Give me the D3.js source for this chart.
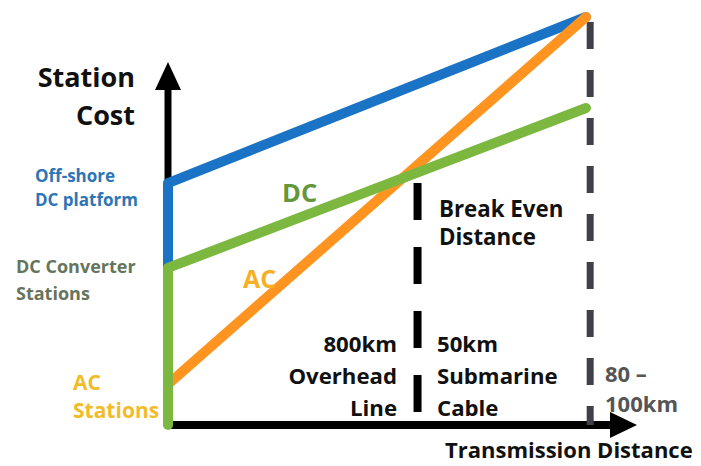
<!DOCTYPE html>
<html>
<head>
<meta charset="utf-8">
<script src="https://cdn.jsdelivr.net/npm/d3@7"></script>
<style>
  body { margin: 0; background: #fff; }
  svg text { font-family: 'Open Sans', Lato, sans-serif; font-weight: bold; }
</style>
</head>
<body>
<svg id="chart"></svg>
<script>
// schematic values, distance and cost in relative units (0-100)
const distance = [0, 100];
const acCost = [10, 100];
const dcCost = [38.5, 77.7];
const dcPlatformCost = [59.3, 100];
const breakEvenDistance = 59.7;
const submarineLimit = 101;

const width = 701, height = 466;
const x = d3.scaleLinear().domain([0, 100]).range([168, 586]);
const y = d3.scaleLinear().domain([0, 100]).range([425, 17]);

const svg = d3.select('#chart')
    .attr('width', width)
    .attr('height', height);

// axes with arrows
svg.append('line')
    .attr('x1', x(0)).attr('x2', 612)
    .attr('y1', y(0)).attr('y2', y(0))
    .attr('stroke', '#000').attr('stroke-width', 8);
svg.append('path')
    .attr('d', `M610,${y(0) - 13} L637,${y(0)} L610,${y(0) + 13} Z`)
    .attr('fill', '#000');
svg.append('line')
    .attr('x1', x(0)).attr('x2', x(0))
    .attr('y1', y(0)).attr('y2', 88)
    .attr('stroke', '#000').attr('stroke-width', 7);
svg.append('path')
    .attr('d', `M${x(0) - 13},90 L${x(0)},62 L${x(0) + 13},90 Z`)
    .attr('fill', '#000');

// dashed guides
svg.append('line')
    .attr('x1', x(breakEvenDistance)).attr('x2', x(breakEvenDistance))
    .attr('y1', 183).attr('y2', y(0))
    .attr('stroke', '#000').attr('stroke-width', 8)
    .attr('stroke-dasharray', '37 27');
svg.append('line')
    .attr('x1', x(submarineLimit)).attr('x2', x(submarineLimit))
    .attr('y1', 22).attr('y2', y(0))
    .attr('stroke', '#404048').attr('stroke-width', 7)
    .attr('stroke-dasharray', '27 21');

const line = d3.line().x(d => x(d[0])).y(d => y(d[1]));

const blue = [[0, dcCost[0]], [0, dcPlatformCost[0]], [distance[1], dcPlatformCost[1]]];
const orange = [[distance[0], acCost[0]], [distance[1], acCost[1]]];
const green = [[0, 0], [0, dcCost[0]], [distance[1], dcCost[1]]];

[[blue, '#1a73c4'], [orange, '#ff9520'], [green, '#7cb840']].forEach(([d, c]) => {
    svg.append('path')
        .attr('d', line(d))
        .attr('fill', 'none')
        .attr('stroke', c)
        .attr('stroke-width', 10)
        .attr('stroke-linejoin', 'round')
        .attr('stroke-linecap', 'round');
});

// labels
function label(lines, xp, y0, dy, size, color, anchor) {
    const t = svg.append('text')
        .attr('x', xp).attr('y', y0)
        .attr('font-size', size)
        .attr('fill', color)
        .attr('text-anchor', anchor || 'start');
    lines.forEach((s, i) => {
        t.append('tspan').attr('x', xp).attr('y', y0 + i * dy).text(s);
    });
}

label(['Station', 'Cost'], 135, 87, 38, 27, '#111', 'end');
label(['Off-shore', 'DC platform'], 35, 182, 24, 17, '#2e75b6');
label(['DC Converter', 'Stations'], 16, 273, 27, 18, '#67745c');
label(['AC', 'Stations'], 73, 390, 28, 21, '#f2bb2a');
label(['DC'], 282, 202, 0, 25.5, '#64963c');
label(['AC'], 243, 288, 0, 25, '#f6b026');
label(['Break Even', 'Distance'], 439, 217, 28, 22.3, '#111');
label(['800km', 'Overhead', 'Line'], 397, 352, 32, 22.2, '#111', 'end');
label(['50km', 'Submarine', 'Cable'], 437, 352, 32, 22.2, '#111');
label(['80 \u2013', '100km'], 605, 382, 30, 22, '#555');
label(['Transmission Distance'], 445, 458, 0, 22, '#111');
</script>
</body>
</html>
